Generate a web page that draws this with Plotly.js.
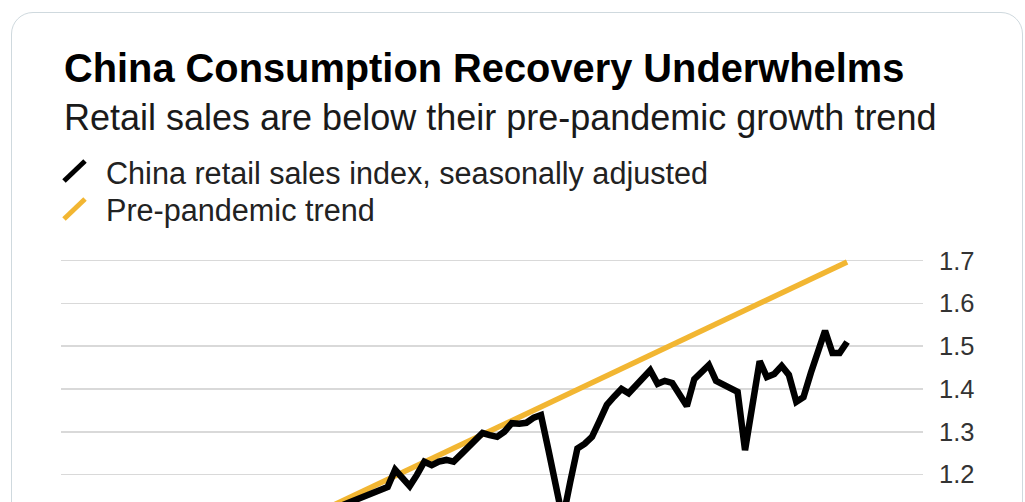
<!DOCTYPE html>
<html>
<head>
<meta charset="utf-8">
<script src="https://cdn.plot.ly/plotly-3.0.1.min.js"></script>
<style>
html,body{margin:0;padding:0;background:#ffffff;overflow:hidden;width:1025px;height:502px;}
#card{position:absolute;left:11px;top:12px;width:1012px;height:600px;border:1.5px solid #cfd9de;border-radius:22px;box-sizing:border-box;}
#chart{position:absolute;left:0;top:0;width:1025px;height:502px;}
</style>
</head>
<body>
<div id="card"></div>
<div id="chart"></div>
<script>
// ---------- data ----------
const months = [
 '2017-01-01','2017-02-01','2017-03-01','2017-04-01','2017-05-01','2017-06-01','2017-07-01','2017-08-01','2017-09-01','2017-10-01','2017-11-01','2017-12-01',
 '2018-01-01','2018-02-01','2018-03-01','2018-04-01','2018-05-01','2018-06-01','2018-07-01','2018-08-01','2018-09-01','2018-10-01','2018-11-01','2018-12-01',
 '2019-01-01','2019-02-01','2019-03-01','2019-04-01','2019-05-01','2019-06-01','2019-07-01','2019-08-01','2019-09-01','2019-10-01','2019-11-01','2019-12-01',
 '2020-01-01','2020-02-01','2020-03-01','2020-04-01','2020-05-01','2020-06-01','2020-07-01','2020-08-01','2020-09-01','2020-10-01','2020-11-01','2020-12-01',
 '2021-01-01','2021-02-01','2021-03-01','2021-04-01','2021-05-01','2021-06-01','2021-07-01','2021-08-01','2021-09-01','2021-10-01','2021-11-01','2021-12-01',
 '2022-01-01','2022-02-01','2022-03-01','2022-04-01','2022-05-01','2022-06-01','2022-07-01','2022-08-01','2022-09-01','2022-10-01','2022-11-01','2022-12-01',
 '2023-01-01','2023-02-01','2023-03-01','2023-04-01','2023-05-01','2023-06-01'
];
const retailSalesIndex = [
 1.075,1.082,1.088,1.097,1.103,1.109,1.118,1.126,1.133,1.140,1.147,1.151,
 1.158,1.164,1.171,1.211,1.192,1.173,1.199,1.230,1.222,1.230,1.234,1.230,
 1.247,1.264,1.282,1.297,1.292,1.288,1.300,1.320,1.319,1.321,1.333,1.339,
 1.258,1.177,1.096,1.182,1.261,1.272,1.288,1.325,1.363,1.382,1.400,1.390,
 1.409,1.428,1.444,1.412,1.419,1.414,1.384,1.360,1.423,1.440,1.456,1.419,
 1.409,1.402,1.393,1.257,1.367,1.465,1.428,1.435,1.454,1.433,1.370,1.381,
 1.438,1.496,1.536,1.484,1.484,1.510
];
const trendDates = ['2017-01-01','2023-06-01'];
const trendValues = [1.076, 1.697];
const yTickValues = [1.2, 1.3, 1.4, 1.5, 1.6, 1.7];
const yTickLabels = ['1.2', '1.3', '1.4', '1.5', '1.6', '1.7'];

const titleText = 'China Consumption Recovery Underwhelms';
const subtitleText = 'Retail sales are below their pre-pandemic growth trend';
const seriesNames = ['China retail sales index, seasonally adjusted', 'Pre-pandemic trend'];
const seriesColors = ['#000000', '#f2b632'];

// ---------- layout helpers (pixel -> paper) ----------
const W = 1025, H = 502;
const M = {l: 61, r: W - 923, t: 245, b: 0};
const PW = W - M.l - M.r, PH = H - M.t - M.b;
const px = x => (x - M.l) / PW;
const py = y => (H - M.b - y) / PH;
const FONT = 'Liberation Sans, Arial, Helvetica, sans-serif';

const traces = [
  {x: trendDates, y: trendValues, type: 'scatter', mode: 'lines', name: seriesNames[1],
   line: {color: seriesColors[1], width: 5.5}, hoverinfo: 'skip', showlegend: false},
  {x: months, y: retailSalesIndex, type: 'scatter', mode: 'lines', name: seriesNames[0],
   line: {color: seriesColors[0], width: 6.5}, hoverinfo: 'skip', showlegend: false}
];

function textAnn(text, xPix, centerY, size, bold, color) {
  return {text: bold ? '<b>' + text + '</b>' : text, xref: 'paper', yref: 'paper',
    x: px(xPix), y: py(centerY), xanchor: 'left', yanchor: 'middle', showarrow: false,
    font: {family: FONT, size: size, color: color}, align: 'left'};
}

const layout = {
  width: W, height: H,
  margin: M,
  paper_bgcolor: 'rgba(0,0,0,0)', plot_bgcolor: 'rgba(0,0,0,0)',
  font: {family: FONT},
  showlegend: false,
  xaxis: {type: 'date', range: ['2014-06-06', '2024-04-13'], showgrid: false, zeroline: false,
          showline: false, showticklabels: false, ticks: '', fixedrange: true},
  yaxis: {side: 'right', range: [1.1357, 1.7367], tickvals: yTickValues, ticktext: yTickLabels,
          showgrid: true, gridcolor: '#d9d9d9', gridwidth: 1.6, zeroline: false, showline: false,
          ticks: '', ticklabelstandoff: 15, fixedrange: true,
          tickfont: {family: FONT, size: 25.5, color: '#333333'}},
  annotations: [
    textAnn(titleText, 62, 68, 39.8, true, '#000000'),
    textAnn(subtitleText, 62, 117.5, 36, false, '#1a1a1a'),
    textAnn(seriesNames[0], 104, 173.5, 30.6, false, '#222222'),
    textAnn(seriesNames[1], 104, 210.5, 30.6, false, '#222222')
  ],
  shapes: [
    {type: 'line', xref: 'paper', yref: 'paper', x0: px(64), y0: py(181), x1: px(85), y1: py(161),
     line: {color: seriesColors[0], width: 5}},
    {type: 'line', xref: 'paper', yref: 'paper', x0: px(64), y0: py(219), x1: px(85), y1: py(199),
     line: {color: seriesColors[1], width: 5}}
  ]
};

Plotly.newPlot('chart', traces, layout, {staticPlot: true, displayModeBar: false});
</script>
</body>
</html>
